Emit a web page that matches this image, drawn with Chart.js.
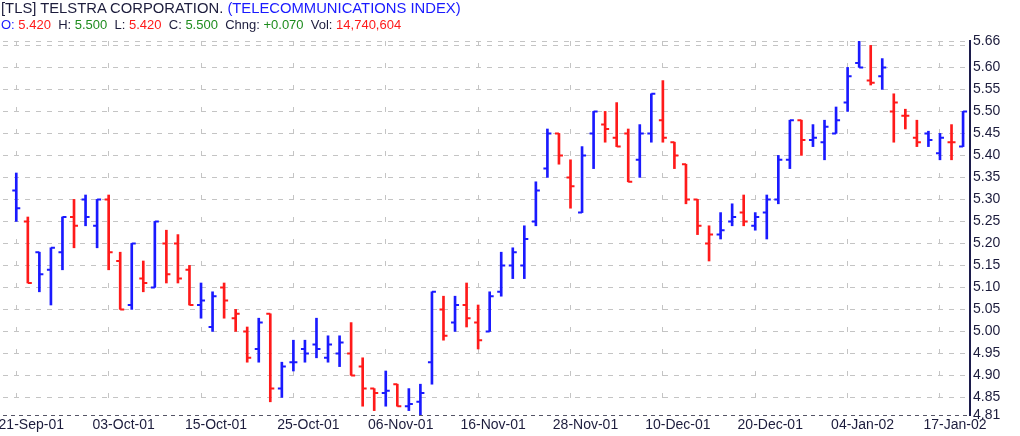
<!DOCTYPE html>
<html>
<head>
<meta charset="utf-8">
<script src="https://cdn.jsdelivr.net/npm/chart.js@4.4.1/dist/chart.umd.min.js"></script>
<style>
  html, body { margin: 0; padding: 0; background: #ffffff; }
  #wrap { position: relative; width: 1020px; height: 436px; overflow: hidden; font-family: "Liberation Sans", Arial, sans-serif; }
  #c { position: absolute; left: 0; top: 0; }
  .hdr { position: absolute; left: 1px; white-space: pre; }
  #h1 { top: 0px; font-size: 14.8px; line-height: 17px; color: #1c1c3c; }
  #h2 { top: 17px; font-size: 13px; line-height: 15px; color: #1c1c3c; }
  .bl { color: #1a1aff; }
  .rd { color: #ff1a1a; }
  .gr { color: #1e8c1e; }
</style>
</head>
<body>
<div id="wrap">
  <canvas id="c" width="1020" height="436"></canvas>
  <div id="h1" class="hdr">[TLS] TELSTRA CORPORATION. <span class="bl">(TELECOMMUNICATIONS INDEX)</span></div>
  <div id="h2" class="hdr"><span class="bl">O:</span> <span class="rd">5.420</span>  H: <span class="gr">5.500</span>  L: <span class="rd">5.420</span>  C: <span class="gr">5.500</span>  Chng: <span class="gr">+0.070</span>  Vol: <span class="rd">14,740,604</span></div>
</div>
<script>
// ---- data ----
const dates = ['21-Sep-01','24-Sep-01','25-Sep-01','26-Sep-01','27-Sep-01','28-Sep-01','01-Oct-01','02-Oct-01',
  '03-Oct-01','04-Oct-01','05-Oct-01','08-Oct-01','09-Oct-01','10-Oct-01','11-Oct-01','12-Oct-01',
  '15-Oct-01','16-Oct-01','17-Oct-01','18-Oct-01','19-Oct-01','22-Oct-01','23-Oct-01','24-Oct-01',
  '25-Oct-01','26-Oct-01','29-Oct-01','30-Oct-01','31-Oct-01','01-Nov-01','02-Nov-01','05-Nov-01',
  '06-Nov-01','07-Nov-01','08-Nov-01','09-Nov-01','12-Nov-01','13-Nov-01','14-Nov-01','15-Nov-01',
  '16-Nov-01','19-Nov-01','20-Nov-01','21-Nov-01','22-Nov-01','23-Nov-01','26-Nov-01','27-Nov-01',
  '28-Nov-01','29-Nov-01','30-Nov-01','03-Dec-01','04-Dec-01','05-Dec-01','06-Dec-01','07-Dec-01',
  '10-Dec-01','11-Dec-01','12-Dec-01','13-Dec-01','14-Dec-01','17-Dec-01','18-Dec-01','19-Dec-01',
  '20-Dec-01','21-Dec-01','24-Dec-01','27-Dec-01','28-Dec-01','31-Dec-01','02-Jan-02','03-Jan-02',
  '04-Jan-02','07-Jan-02','08-Jan-02','09-Jan-02','10-Jan-02','11-Jan-02','14-Jan-02','16-Jan-02',
  '17-Jan-02','18-Jan-02','21-Jan-02'];

const openP = [5.32,5.25,5.18,5.14,5.18,5.26,5.30,5.24,
  5.30,5.16,5.06,5.12,5.10,5.20,5.20,5.14,
  5.06,5.01,5.10,5.03,5.00,4.96,5.04,4.87,
  4.93,4.96,4.97,4.94,4.95,4.95,4.92,4.87,
  4.86,4.88,4.83,4.84,4.93,5.05,5.02,5.06,
  5.02,5.00,5.09,5.15,5.15,5.25,5.37,5.45,
  5.35,5.27,5.45,5.47,5.44,5.45,5.39,5.45,
  5.48,5.43,5.38,5.30,5.20,5.22,5.25,5.27,
  5.24,5.27,5.30,5.39,5.48,5.435,5.43,5.45,
  5.52,5.61,5.57,5.58,5.50,5.49,5.44,5.45,
  5.405,5.43,5.42];

const highP = [5.36,5.26,5.18,5.19,5.26,5.30,5.31,5.30,
  5.31,5.18,5.20,5.16,5.25,5.23,5.22,5.15,
  5.11,5.09,5.11,5.05,5.01,5.03,5.04,4.93,
  4.98,4.98,5.03,4.99,4.99,5.02,4.94,4.87,
  4.91,4.88,4.87,4.88,5.09,5.08,5.08,5.11,
  5.06,5.09,5.18,5.19,5.24,5.34,5.46,5.45,
  5.39,5.42,5.50,5.50,5.52,5.46,5.47,5.54,
  5.57,5.43,5.38,5.30,5.24,5.27,5.29,5.31,
  5.27,5.31,5.40,5.48,5.48,5.47,5.48,5.51,
  5.60,5.66,5.65,5.62,5.54,5.505,5.48,5.455,
  5.45,5.47,5.50];

const lowP = [5.25,5.11,5.09,5.06,5.14,5.19,5.24,5.19,
  5.14,5.05,5.05,5.09,5.10,5.11,5.11,5.06,
  5.03,5.00,5.03,5.00,4.93,4.93,4.84,4.85,
  4.91,4.93,4.94,4.93,4.92,4.90,4.83,4.82,
  4.83,4.83,4.82,4.81,4.88,4.98,5.00,5.01,
  4.96,5.00,5.08,5.12,5.12,5.24,5.35,5.38,
  5.28,5.27,5.37,5.43,5.42,5.34,5.35,5.43,
  5.43,5.37,5.29,5.22,5.16,5.21,5.24,5.24,
  5.23,5.21,5.29,5.37,5.40,5.42,5.39,5.45,
  5.50,5.60,5.56,5.55,5.43,5.46,5.42,5.42,
  5.39,5.39,5.42];

const closeP = [5.28,5.11,5.13,5.19,5.26,5.24,5.26,5.30,
  5.18,5.05,5.20,5.11,5.25,5.13,5.12,5.06,
  5.07,5.08,5.07,5.04,4.94,5.02,4.87,4.92,
  4.93,4.95,4.96,4.97,4.975,4.90,4.87,4.86,
  4.865,4.83,4.835,4.86,5.09,4.99,5.06,5.03,
  4.98,5.08,5.15,5.18,5.21,5.32,5.45,5.40,
  5.33,5.40,5.50,5.46,5.42,5.34,5.45,5.54,
  5.44,5.40,5.30,5.24,5.22,5.23,5.26,5.25,
  5.26,5.30,5.39,5.48,5.435,5.44,5.465,5.48,
  5.58,5.60,5.565,5.60,5.52,5.49,5.43,5.435,
  5.44,5.43,5.50];

const yTickValues = [4.81,4.85,4.90,4.95,5.00,5.05,5.10,5.15,5.20,5.25,5.30,5.35,5.40,5.45,5.50,5.55,5.60,5.65,5.66];
const xTickIndices = [0,8,16,24,32,40,48,56,64,72,80];

const yMin = 4.81, yMax = 5.66;

// ---- styling ----
const UP = '#1a1aff', DOWN = '#ff1a1a';
const GRID = '#c4c4c4';
const barColors = closeP.map((c, i) => (i === 0 || c >= closeP[i - 1]) ? UP : DOWN);

const ohlcTicks = {
  id: 'ohlcTicks',
  afterDatasetsDraw(chart) {
    const xs = chart.scales.x, ys = chart.scales.y, ctx = chart.ctx;
    ctx.save();
    ctx.lineWidth = 2;
    for (let i = 0; i < dates.length; i++) {
      const x = xs.getPixelForValue(i);
      const yo = ys.getPixelForValue(openP[i]);
      const yc = ys.getPixelForValue(closeP[i]);
      ctx.strokeStyle = barColors[i];
      ctx.beginPath();
      ctx.moveTo(x - 4, yo); ctx.lineTo(x, yo);
      ctx.moveTo(x, yc); ctx.lineTo(x + 4, yc);
      ctx.stroke();
    }
    ctx.restore();
  }
};

new Chart(document.getElementById('c'), {
  type: 'bar',
  data: {
    datasets: [{
      data: dates.map((d, i) => ({ x: i, y: [lowP[i], highP[i]] })),
      backgroundColor: barColors,
      borderWidth: 0,
      barThickness: 2,
      grouped: false
    }]
  },
  options: {
    responsive: false,
    animation: false,
    layout: { padding: { top: 41, left: 3, right: 0, bottom: 0 } },
    plugins: { legend: { display: false }, tooltip: { enabled: false } },
    scales: {
      x: {
        type: 'linear',
        position: 'bottom',
        offset: false,
        min: -1.15,
        max: 82.6,
        grid: { offset: false, color: GRID, lineWidth: 1, drawTicks: false },
        border: { display: false, dash: [5, 17] },
        afterBuildTicks: s => { s.ticks = xTickIndices.map(v => ({ value: v })); },
        ticks: {
          autoSkip: false,
          maxRotation: 0,
          labelOffset: 15,
          padding: 2,
          color: '#1c1c3c',
          font: { family: '"Liberation Sans", Arial, sans-serif', size: 14 },
          callback: v => dates[v] !== undefined ? dates[v] : ''
        },
        afterFit: s => { s.height = 21; s.paddingLeft = 0; s.paddingRight = 0; }
      },
      y: {
        position: 'right',
        min: yMin,
        max: yMax,
        grid: {
          drawTicks: false,
          lineWidth: 1,
          color: c => (c.tick && c.tick.value <= yMin + 1e-4) ? '#555566' : GRID
        },
        border: {
          display: true, color: '#1c1c4c', width: 2,
          dash: c => (c.tick && c.tick.value <= yMin + 1e-4) ? [4, 4] : [5, 6]
        },
        afterBuildTicks: s => { s.ticks = yTickValues.map(v => ({ value: v })); },
        ticks: {
          autoSkip: false,
          padding: 3,
          color: '#1c1c3c',
          font: { family: '"Liberation Sans", Arial, sans-serif', size: 14 },
          callback: v => Math.abs(v - 5.65) < 1e-6 ? '' : Number(v).toFixed(2)
        },
        afterFit: s => { s.width = 50; s.paddingTop = 0; s.paddingBottom = 0; }
      }
    }
  },
  plugins: [ohlcTicks]
});
</script>
</body>
</html>
